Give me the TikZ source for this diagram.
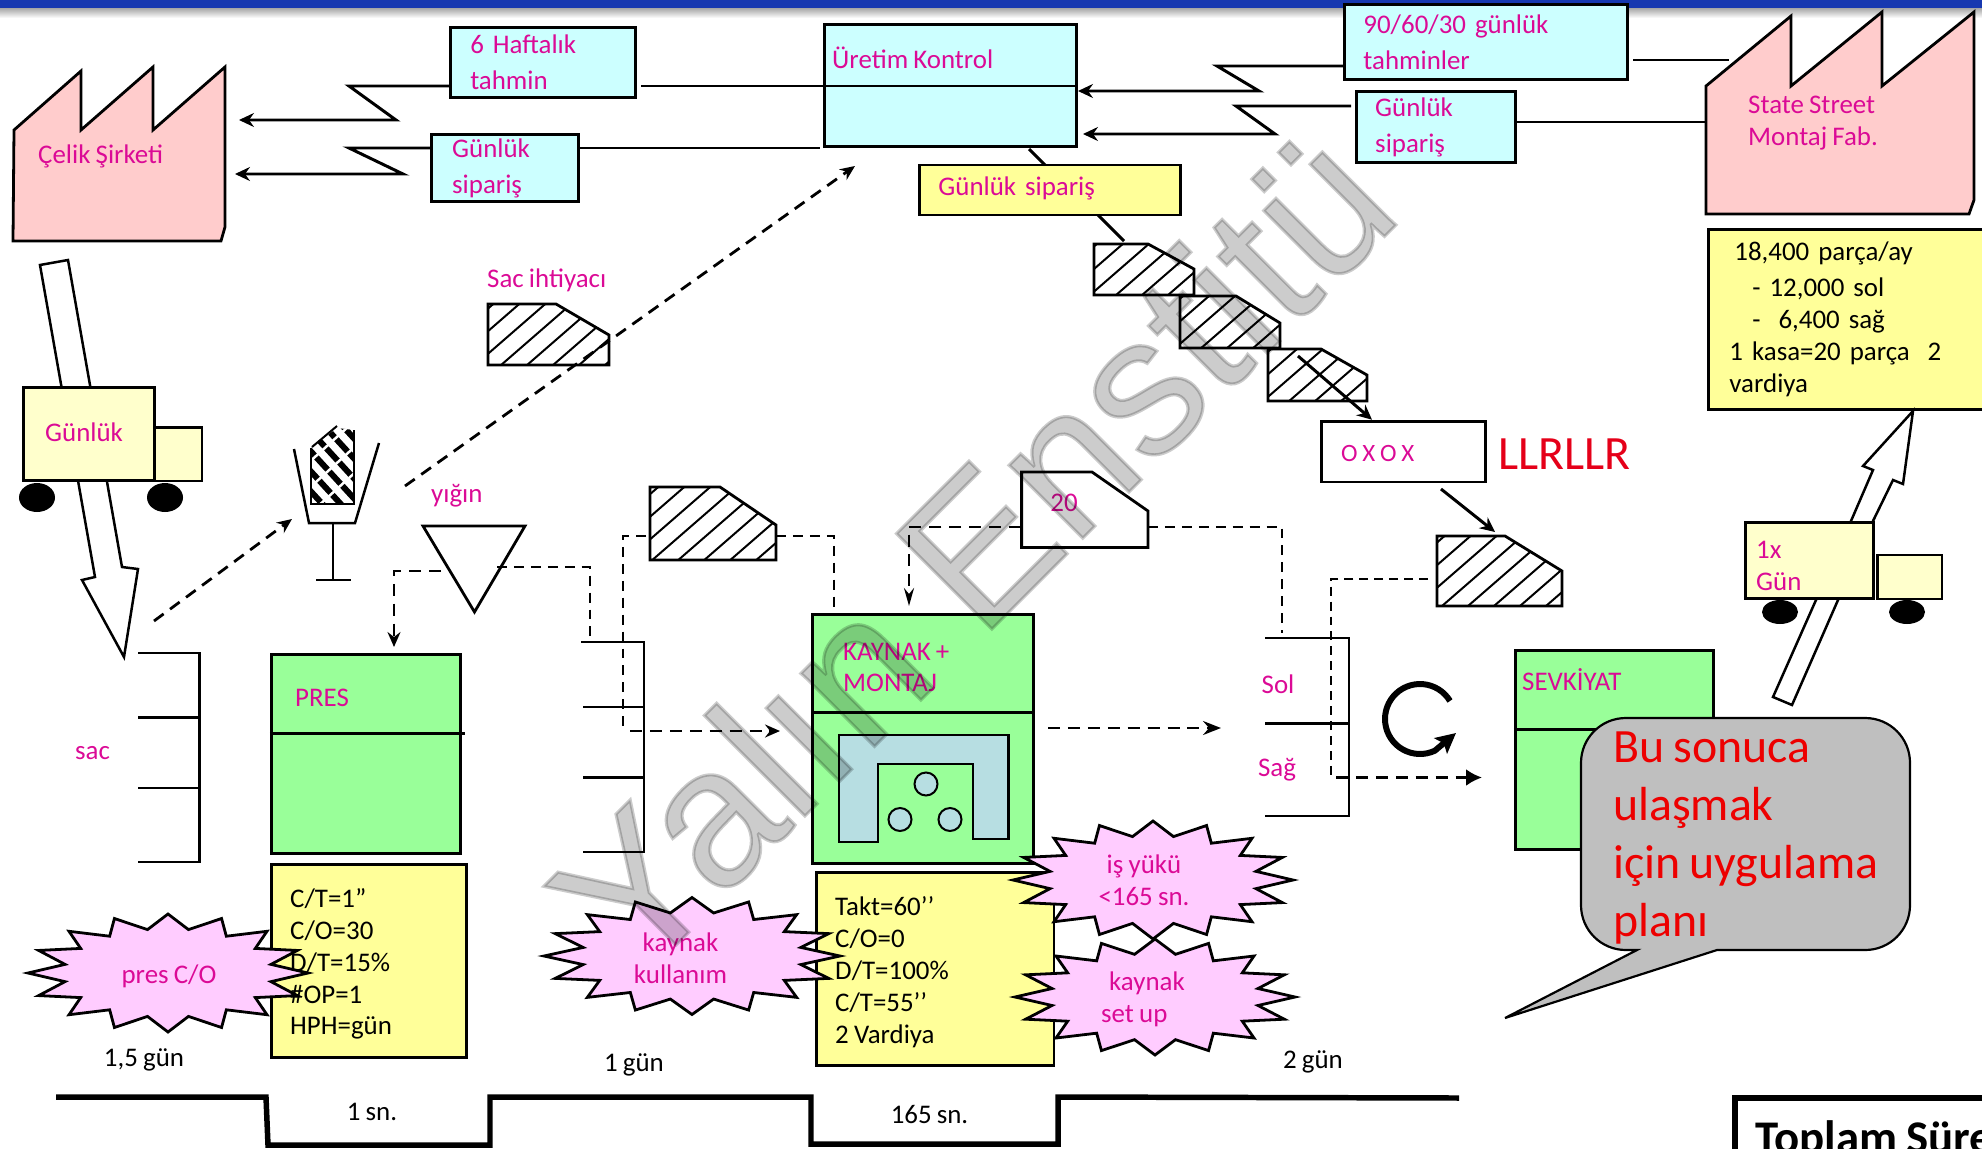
\documentclass[tikz,border=0pt]{standalone}
\usepackage{fontspec}
\setmainfont[WordSpace=0.85]{Carlito}
\newfontfamily\wmfont[FakeBold=1.6]{Liberation Sans}
\usetikzlibrary{arrows.meta}
\definecolor{mag}{HTML}{DB0A96}
\definecolor{cyanbox}{HTML}{CCFFFF}
\definecolor{yelbox}{HTML}{FFFF99}
\definecolor{palebox}{HTML}{FFFFCC}
\definecolor{greenbox}{HTML}{99FF99}
\definecolor{pinkbox}{HTML}{FFCCCC}
\definecolor{starpink}{HTML}{FFCCFF}
\definecolor{ublue}{HTML}{B7DEE2}
\definecolor{calloutgray}{HTML}{BFBFBF}
\definecolor{topblue}{HTML}{1738B0}
\tikzset{
  ln/.style={line width=3pt,line join=miter},
  solidarrow/.style={ln,-{Stealth[length=15pt,width=14pt,inset=5pt]}},
  dashA/.style={line width=2.8pt,dash pattern=on 12pt off 8pt,-{Stealth[length=15pt,width=13pt,inset=5pt]}},
  dashP/.style={line width=2.8pt,dash pattern=on 10pt off 7pt},
  dashT/.style={line width=2pt,dash pattern=on 9pt off 6pt},
  box/.style={draw,line width=2.8pt,inner ysep=0pt,align=left,font=\fontsize{27}{32}\selectfont,text=mag},
  tbox/.style={box,execute at begin node={\vspace*{4pt}}},
  txt/.style={inner sep=0pt,text=mag,font=\fontsize{27}{32}\selectfont,align=left,anchor=west},
  blk/.style={txt,text=black},
  mid/.style={inner sep=0pt,text=black,font=\fontsize{27}{32}\selectfont,align=center},
  shapeln/.style={draw,line width=2.8pt,line join=miter},
  bigarrow/.style={draw,fill=white,line width=2.5pt},
  burststyle/.style={draw,line width=2.8pt,fill=starpink,line join=miter},
  inv/.style={line width=2.8pt},
  timeline/.style={line width=5.5pt,line join=miter},
}
\newcommand{\burstshape}[4]{%
  \path[burststyle] plot[domain=0:31,samples=32]
   ({#1+#3*(1-.25*mod(round(\x),2))*cos(\x*11.25)},{#2+#4*(1-.25*mod(round(\x),2))*sin(\x*11.25)}) -- cycle;}
% x0 y0 x1 y1 xc yc
\newcommand{\hatchedshape}[6]{%
  \begin{scope}
    \clip (#1,#2) -- (#5,#2) -- (#3,#6) -- (#3,#4) -- (#1,#4) -- cycle;
    \fill[white] (#1,#2) rectangle (#3,#4);
    \foreach \k in {-10,16,...,220}{\draw[line width=2pt] ({#1+\k-(#4-#2)*.9},#4) -- ++({(#4-#2)*1.15},{-(#4-#2)});}
  \end{scope}
  \path[shapeln] (#1,#2) -- (#5,#2) -- (#3,#6) -- (#3,#4) -- (#1,#4) -- cycle;}
\begin{document}
\begin{tikzpicture}[x=1bp,y=-1bp]
\useasboundingbox (0,0) rectangle (1982,1148);
\clip (0,0) rectangle (1982,1148);
% top band
\shade[top color=gray!70,bottom color=white] (0,8) rectangle (1982,18);
\fill[topblue] (0,0) rectangle (1982,8);
% factories
\path[shapeln,fill=pinkbox] (14,130) -- (81,71) -- (81,130) -- (153,67) -- (153,130) -- (225,67) -- (225,227) -- (221,241) -- (13,241) -- cycle;
\node[txt] (celikt) at (38,156.5) {Çelik Şirketi};
\path[shapeln,fill=pinkbox] (1706,86) -- (1791,16) -- (1791,86) -- (1882,12) -- (1882,86) -- (1974,12) -- (1974,200) -- (1969,214) -- (1706,214) -- cycle;
\node[txt] (statet) at (1748,123.5) {State Street\\Montaj Fab.};
% info boxes
\node[tbox,fill=cyanbox,minimum width=186,minimum height=71,text width=146,inner xsep=20] (h6) at (543,62.5) {6 Haftalık\\tahmin};
\node[tbox,fill=cyanbox,minimum width=148,minimum height=68,text width=106,inner xsep=21] (gs1) at (505,168) {Günlük\\sipariş};
\node[box,fill=cyanbox,minimum width=253,minimum height=123] (uk) at (950.5,85.5) {};
\node[txt] (ukt) at (832,58) {Üretim Kontrol};
\node[tbox,fill=cyanbox,minimum width=284,minimum height=75,text width=246,inner xsep=19] (bi) at (1486,42) {90/60/30 günlük\\tahminler};
\node[tbox,fill=cyanbox,minimum width=160,minimum height=71,text width=122,inner xsep=19] (gs2) at (1436,127) {Günlük\\sipariş};
\node[tbox,fill=yelbox,minimum width=262,minimum height=50,text width=224,inner xsep=19] (gsy) at (1050,190) {Günlük sipariş};
\draw[ln] (uk.west |- 0,86) -- (uk.east |- 0,86);
% electronic flows
\coordinate (celikA) at (239,120);
\coordinate (celikB) at (235,174);
\coordinate (ukA) at (1078,91);
\coordinate (ukB) at (1083,134);
\draw[solidarrow] (h6.west |- 0,86) -- (349,86) -- (396,120) -- (celikA);
\draw[solidarrow] (gs1.west |- 0,148) -- (349,148) -- (403,174) -- (celikB);
\draw[ln] (641,86) -- (uk.west |- 0,86);
\draw[ln] (gs1.east |- 0,148) -- (820,148);
\draw[solidarrow] (bi.west |- 0,66) -- (1217,66) -- (1259,91) -- (ukA);
\draw[solidarrow] (1351,106) -- (1236,106) -- (1275,134) -- (ukB);
\draw[ln] (gs2.east |- 0,122) -- (1706,122);
\draw[ln] (1633,60) -- (1729,60);
\draw[line width=3pt] (1029,149) -- (1045,165);
\draw[line width=3pt] (1098,215) -- (1124,241);
% hatched schedule boxes
\hatchedshape{1094}{244}{1194}{295}{1148}{269}
\hatchedshape{1180}{296}{1280}{348}{1236}{323}
\hatchedshape{1268}{349}{1367}{401}{1321}{375}
\node[box,fill=white,minimum width=165,minimum height=61] (ox) at (1403.5,451.5) {};
\node[txt,font=\fontsize{25}{32}\selectfont] (oxt) at (1341,453) {O X O X};
\coordinate (hatchstart) at (1298,356);
\draw[solidarrow] (hatchstart) -- (ox.north west -| 1372,0);
\node[inner sep=0pt,anchor=west,text=red!90!blue,font=\fontsize{48}{50}\selectfont] (llr) at (1498,454) {LLRLLR};
\hatchedshape{1437}{536}{1562}{606}{1505}{571}
\coordinate (hatchtop) at (1495,532);
\draw[solidarrow] (1441,489) -- (hatchtop);
% right info box
\node[tbox,fill=yelbox,minimum width=282,minimum height=181,text=black,text width=240,inner xsep=21] (demand) at (1849,319.5) {\hspace*{5pt}18,400 parça/ay\\\hspace*{23pt}- 12,000 sol\\\hspace*{23pt}-\ \ 6,400 sağ\\1 kasa=20 parça\ \ 2\\vardiya};
% big arrow to customer
\path[bigarrow] (1792,705) -- (1773,697) -- (1851,521) -- (1873,470) -- (1863,466) -- (1913,411) -- (1903,484) -- (1893,480) -- (1873,521) -- (1838,600) -- cycle;
% truck right
\node[box,fill=palebox,minimum width=129,minimum height=77] (truckR) at (1809.5,560.5) {};
\node[box,fill=palebox,minimum width=65,minimum height=44] (cabR) at (1909.5,577) {};
\node[txt] (truckRt) at (1756,566) {1x\\Gün};
\fill (1780,612) ellipse[x radius=18,y radius=12];
\fill (1907,612) ellipse[x radius=18,y radius=12];
% big arrow from steel
\path[bigarrow] (40,265) -- (68,260) -- (122,567) -- (138,569) -- (124,657) -- (82,580) -- (95,577) -- cycle;
% truck left
\node[tbox,fill=palebox,minimum width=132,minimum height=94,text width=88,inner xsep=22] (truckL) at (89,434) {Günlük};
\node[box,fill=palebox,minimum width=47,minimum height=54] (cabL) at (178.5,454) {};
\fill (37,497.5) ellipse[x radius=18,y radius=14.5];
\fill (165,497.5) ellipse[x radius=18,y radius=14.5];
% Sac ihtiyaci
\node[txt] (sacih) at (487,280) {Sac ihtiyacı};
\hatchedshape{488}{304}{609}{365}{556}{335}
% kanban post
\begin{scope}
  \clip (311,448) -- (337,428) -- (354,430) -- (354,504) -- (311,504) -- cycle;
  \foreach \k in {-60,-40,...,60}{\draw[line width=6pt] (305,{445+\k}) -- (360,{505+\k});}
  \foreach \k in {-30,-4,...,60}{\draw[white,line width=2.5pt] (305,{470+\k}) -- (360,{420+\k});}
\end{scope}
\draw[line width=2pt] (312,447) -- (337,426);
\draw[line width=2pt] (311,448) -- (311,504) -- (354,504) -- (354,430);
\draw[line width=2.5pt] (294,449) -- (309,523) -- (355,523) -- (379,443);
\draw[line width=2.5pt] (333,523) -- (333,580);
\draw[line width=2.5pt] (316,580) -- (351,580);
\coordinate (wdA) at (154,621);
\coordinate (wdB) at (292,519);
\draw[dashA] (wdA) -- (wdB);
\coordinate (longA) at (405,486);
\coordinate (longB) at (855,166);
\draw[dashA] (longA) -- (longB);
% yigin triangle
\node[txt] (yigin) at (431,496) {yığın};
\path[shapeln] (423,526) -- (525,526) -- (474.5,612) -- cycle;
\draw[dashA] (441,571) -- (394,571) -- (394,647);
\draw[dashP] (497,567) -- (590,567) -- (590,642);
% inventories
\draw[inv,line join=miter] (138,653) -- (199.5,653) -- (199.5,862) -- (138,862);
\draw[inv] (138,717.5) -- (199.5,717.5);
\draw[inv] (138,788) -- (199.5,788);
\node[txt] (sac) at (75,753.5) {sac};
% PRES
\node[box,fill=greenbox,minimum width=190,minimum height=200] (pres) at (366,754) {};
\node[txt] (prest) at (295,698) {PRES};
\draw[ln] (pres.west |- 0,733) -- (465,733);
% inv 2
\draw[inv,line join=miter] (581,642) -- (644,642) -- (644,852) -- (583,852);
\draw[inv] (583,707) -- (644,707);
\draw[inv] (583,777.5) -- (644,777.5);
% hatched 2
\hatchedshape{650}{487}{776}{560}{720}{525}
\draw[dashP] (646,536) -- (623,536) -- (623,730);
\draw[dashA] (630,731) -- (780,731);
\draw[dashP] (776,536) -- (834,536) -- (834,608);
% KAYNAK
\node[box,fill=greenbox,minimum width=222,minimum height=250] (kay) at (923,739) {};
\draw[ln] (811,712.6) -- (1035,712.6);
\node[txt] (kayt) at (843,667.5) {KAYNAK +\\MONTAJ};
\path[shapeln,fill=ublue] (839,735) -- (1008.5,735) -- (1008.5,839) -- (973,839) -- (973,764) -- (878,764) -- (878,842) -- (839,842) -- cycle;
\draw[line width=2pt,fill=ublue] (926,784) circle[radius=11.5];
\draw[line width=2pt,fill=ublue] (900,819.5) circle[radius=11.5];
\draw[line width=2pt,fill=ublue] (950,819.5) circle[radius=11.5];
\draw[dashA,-{Stealth[length=18pt,width=14pt,inset=6pt]}] (1048,728) -- (1221,728);
% twenty
\path[shapeln,fill=white] (1021.6,472) -- (1092,472) -- (1148,511) -- (1148,547.5) -- (1021.6,547.5) -- cycle;
\node[txt,anchor=center] (twentyt) at (1064,503) {20};
\draw[dashA,-{Stealth[length=18pt,width=10pt,inset=6pt]}] (1021,527) -- (909,527) -- (909,606);
\draw[dashP] (1148,527) -- (1282,527) -- (1282,633);
% inv 3
\draw[inv,line join=miter] (1265,638) -- (1349,638) -- (1349,816) -- (1265,816);
\draw[inv] (1265,723.5) -- (1349,723.5);
\node[txt,anchor=center] (sol) at (1278,684) {Sol};
\node[txt,anchor=center] (sag) at (1277,770) {Sağ};
\draw[dashT] (1428,579) -- (1331,579) -- (1331,777);
\draw[dashA,-{Latex[length=16pt,width=17pt]}] (1336,777.5) -- (1482,777.5);
% circular arrow
\draw[line width=6pt,-{Stealth[length=20pt,width=20pt,inset=4pt]}] plot[domain=-31:-295,samples=40] ({1420+35*cos(\x)},{719+35*sin(\x)}) -- (1456,733);
% SEVKIYAT
\node[box,fill=greenbox,minimum width=199,minimum height=200] (sevk) at (1614.5,750) {};
\draw[ln] (sevk.west |- 0,729.5) -- (sevk.east |- 0,729.5);
\node[txt] (sevkt) at (1522,679.5) {SEVKİYAT};
% callout
\path[draw,line width=2.2pt,fill=calloutgray] (1505,1018) -- (1717,950) [rounded corners=45pt] -- (1910,950) -- (1910,718) -- (1581,718) -- (1581,950) [sharp corners] -- (1637,950) -- cycle;
\node[txt,text=red!93!black,font=\fontsize{48}{58.5}\selectfont] (callt) at (1613,838) {Bu sonuca\\ulaşmak\\için uygulama\\planı};
% data boxes (under bursts)
\node[box,fill=yelbox,minimum width=196,minimum height=194] (ctbox) at (369,961) {};
\node[box,fill=yelbox,minimum width=238.5,minimum height=194] (taktbox) at (935.25,969) {};
% bursts
\burstshape{168}{973}{140}{59}
\burstshape{692}{956}{148}{58.5}
\burstshape{1153}{880}{140}{59}
\burstshape{1155}{997}{140}{58}
\node[mid,text=mag] (presco) at (169,976) {pres C/O};
\node[mid,text=mag] (kk) at (680.5,958) {kaynak\\kullanım};
\node[mid,text=mag] (isy) at (1144,880.5) {iş yükü\\<165 sn.};
\node[txt,text=mag] (kset) at (1101,999) {\hspace*{8pt}kaynak\\set up};
\node[blk] (cttxt) at (290,964) {C/T=1”\\C/O=30\\D/T=15\%\\\#OP=1\\HPH=gün};
\node[blk] (takttxt) at (835,972) {Takt=60’’\\C/O=0\\D/T=100\%\\C/T=55’’\\2 Vardiya};
% times
\node[mid] (t1) at (144,1060) {1,5 gün};
\node[mid] (t2) at (634,1064.5) {1 gün};
\node[mid] (t3) at (1313,1061.5) {2 gün};
\node[mid] (t4) at (372,1112) {1 sn.};
\node[mid] (t5) at (929.5,1115) {165 sn.};
\draw[timeline] (56,1097) -- (266,1097) -- (268,1145) -- (490,1145) -- (490,1097) -- (811,1097) -- (811,1144) -- (1058,1144) -- (1058,1097) -- (1459,1098);
% total box
\draw[line width=6pt] (1735,1160) -- (1735,1098) -- (1995,1098);
\node[inner sep=0pt,anchor=base west,font=\fontsize{47}{50}\bfseries\selectfont] (toplam) at (1755,1153) {Toplam Süre};
% watermark
\node[inner sep=0pt,anchor=base west,rotate=45,text=black,text opacity=.2,font=\wmfont\fontsize{197}{200}\selectfont] (wm) at (636,985) {Yalın Enstitü};
\end{tikzpicture}
\end{document}
